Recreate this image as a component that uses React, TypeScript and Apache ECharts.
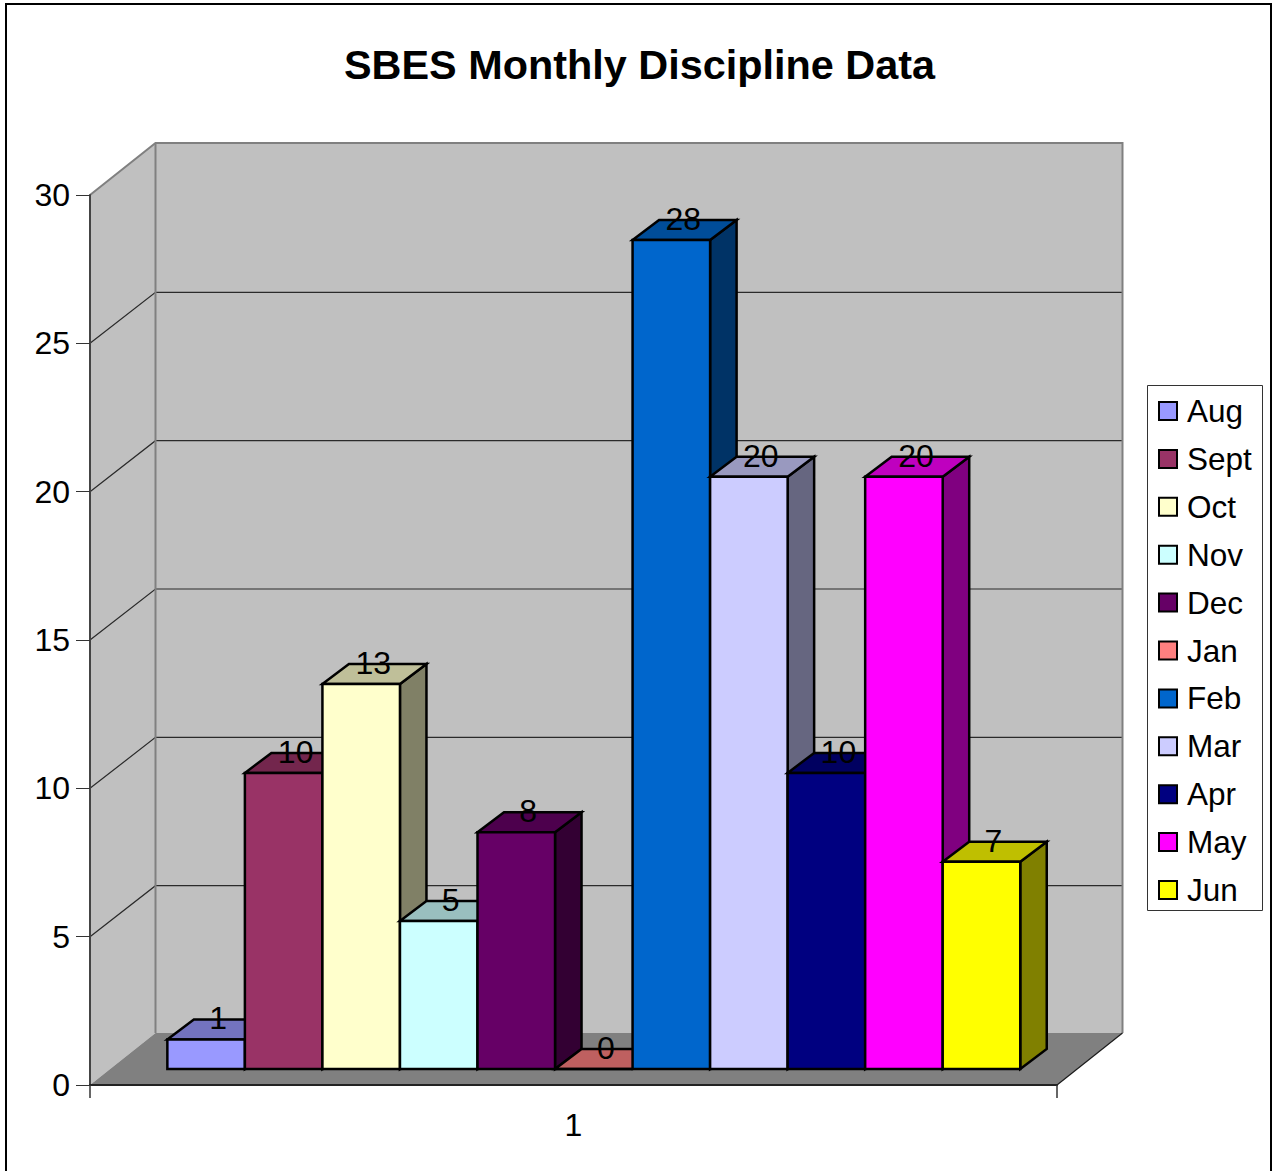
import React, { useEffect, useRef } from "react";
import * as echarts from "echarts";

const categories = ["1"];
const months = ["Aug", "Sept", "Oct", "Nov", "Dec", "Jan", "Feb", "Mar", "Apr", "May", "Jun"];
const values = [1, 10, 13, 5, 8, 0, 28, 20, 10, 20, 7];
const colors = ["#9999FF", "#993366", "#FFFFCC", "#CCFFFF", "#660066", "#FF8080", "#0066CC", "#CCCCFF", "#000080", "#FF00FF", "#FFFF00"];
const gridTicks = [5, 10, 15, 20, 25];

const FONT = '"Liberation Sans", Arial, sans-serif';
const WALL_DX = 65.5;
const WALL_DY = -52;
const GRID_DY = -51;
const BAR_DX = 20.3;
const BAR_DY = -16;
const DEPTH_X = 26.5;
const DEPTH_Y = -20;
const BAR_SHARE = 0.882;
const BAR_SCALE = 0.998;

function shade(hex: string, k: number) {
  const n = parseInt(hex.slice(1), 16);
  const c = [(n >> 16) & 255, (n >> 8) & 255, n & 255].map((v) => Math.round(v * k));
  return `rgb(${c[0]},${c[1]},${c[2]})`;
}

function renderWalls(_: any, api: any) {
  const band = api.size([1, 0])[0];
  const cx = api.coord([0, 0])[0];
  const x0 = cx - band / 2;
  const x1 = cx + band / 2;
  const y0 = api.coord([0, 0])[1];
  const yT = api.coord([0, 30])[1];
  const gray = "#808080";
  const children: any[] = [
    { type: "polygon", shape: { points: [[x0, y0], [x0, yT], [x0 + WALL_DX, yT + WALL_DY], [x0 + WALL_DX, y0 + WALL_DY]] }, style: { fill: "#C0C0C0", stroke: "none" } },
    { type: "polygon", shape: { points: [[x0 + WALL_DX, y0 + WALL_DY], [x0 + WALL_DX, yT + WALL_DY], [x1 + WALL_DX, yT + WALL_DY], [x1 + WALL_DX, y0 + WALL_DY]] }, style: { fill: "#C0C0C0", stroke: "none" } },
    { type: "polygon", shape: { points: [[x0, y0], [x0 + WALL_DX, y0 + WALL_DY], [x1 + WALL_DX, y0 + WALL_DY], [x1, y0]] }, style: { fill: gray, stroke: "none" } },
  ];
  gridTicks.forEach((t) => {
    const y = api.coord([0, t])[1];
    children.push({ type: "polyline", shape: { points: [[x0, y], [x0 + WALL_DX, y + GRID_DY], [x1 + WALL_DX, y + GRID_DY]] }, style: { fill: "none", stroke: "#2a2a2a", lineWidth: 1.2 } });
  });
  children.push(
    { type: "polyline", shape: { points: [[x0, yT], [x0 + WALL_DX, yT + WALL_DY], [x1 + WALL_DX, yT + WALL_DY], [x1 + WALL_DX, y0 + WALL_DY]] }, style: { fill: "none", stroke: gray, lineWidth: 2 } },
    { type: "line", shape: { x1: x0 + WALL_DX, y1: yT + WALL_DY, x2: x0 + WALL_DX, y2: y0 + WALL_DY }, style: { stroke: gray, lineWidth: 2 } },
    { type: "line", shape: { x1: x1, y1: y0, x2: x1 + WALL_DX, y2: y0 + WALL_DY }, style: { stroke: "#1a1a1a", lineWidth: 1.2 } }
  );
  return { type: "group", children };
}

function makeBarRenderer(i: number) {
  return (_: any, api: any) => {
    const band = api.size([1, 0])[0];
    const w = (band * BAR_SHARE) / months.length;
    const p = api.coord([api.value(0), api.value(1)]);
    const b = api.coord([api.value(0), 0]);
    const l = p[0] + BAR_DX + (i - months.length / 2) * w;
    const r = l + w;
    const bot = b[1] + BAR_DY;
    const top = bot + (p[1] - b[1]) * BAR_SCALE;
    const edge = { stroke: "#000", lineWidth: 2.5, lineJoin: "miter" };
    const children: any[] = [
      { type: "polygon", shape: { points: [[r, bot], [r, top], [r + DEPTH_X, top + DEPTH_Y], [r + DEPTH_X, bot + DEPTH_Y]] }, style: { fill: shade(colors[i], 0.5), ...edge } },
      { type: "polygon", shape: { points: [[l, top], [l + DEPTH_X, top + DEPTH_Y], [r + DEPTH_X, top + DEPTH_Y], [r, top]] }, style: { fill: shade(colors[i], 0.75), ...edge } },
      { type: "polygon", shape: { points: [[l, bot], [l, top], [r, top], [r, bot]] }, style: { fill: colors[i], ...edge } },
      { type: "text", style: { text: String(api.value(1)), x: (l + r) / 2 + 12, y: top + DEPTH_Y - 1, textAlign: "center", textVerticalAlign: "middle", fontFamily: FONT, fontSize: 32, fill: "#000" } },
    ];
    return { type: "group", children };
  };
}

export default function App() {
  const ref = useRef<HTMLDivElement>(null);
  useEffect(() => {
    document.body.style.margin = "0";
    const chart = echarts.init(ref.current!, undefined, { renderer: "svg" });
    chart.setOption({
      animation: false,
      backgroundColor: "#fff",
      title: {
        text: "SBES Monthly Discipline Data",
        left: 344,
        top: 44,
        padding: 0,
        textStyle: { fontFamily: FONT, fontSize: 41.4, fontWeight: "bold", color: "#000" },
      },
      graphic: [
        { type: "rect", silent: true, z: 0, shape: { x: 6, y: 4, width: 1265, height: 1300 }, style: { fill: "none", stroke: "#000", lineWidth: 2 } },
        { type: "rect", silent: true, z: 0, shape: { x: 1147.5, y: 385.5, width: 115, height: 525 }, style: { fill: "#fff", stroke: "#333", lineWidth: 1 } },
      ],
      grid: { left: 90, right: 219, top: 195, height: 890 },
      xAxis: {
        type: "category",
        data: categories,
        z: 3,
        axisLine: { lineStyle: { color: "#222", width: 2 } },
        axisTick: { show: true, length: 13, lineStyle: { color: "#333", width: 1.5 } },
        axisLabel: { fontFamily: FONT, fontSize: 32, color: "#000", margin: 24 },
        splitLine: { show: false },
      },
      yAxis: {
        type: "value",
        min: 0,
        max: 30,
        interval: 5,
        z: 3,
        axisLine: { show: true, lineStyle: { color: "#444", width: 2 } },
        axisTick: { show: true, length: 14, lineStyle: { color: "#333", width: 1 } },
        axisLabel: { fontFamily: FONT, fontSize: 32, color: "#000", margin: 20 },
        splitLine: { show: false },
      },
      legend: {
        data: months,
        orient: "vertical",
        left: 1158,
        top: 393,
        padding: 0,
        itemWidth: 18,
        itemHeight: 18,
        itemGap: 11.9,
        icon: "rect",
        selectedMode: false,
        itemStyle: { borderColor: "#000", borderWidth: 2 },
        textStyle: { fontFamily: FONT, fontSize: 31.5, color: "#000", padding: [0, 0, 0, 5], lineHeight: 36 },
      },
      series: [
        { type: "custom", z: 1, silent: true, clip: false, data: [[0, 0]], renderItem: renderWalls },
        ...months.map((name, i) => ({
          type: "custom",
          name,
          z: 2,
          clip: false,
          silent: true,
          data: [[0, values[i]]],
          encode: { x: 0, y: 1 },
          itemStyle: { color: colors[i], borderColor: "#000", borderWidth: 2 },
          renderItem: makeBarRenderer(i),
        })),
      ],
    });
    return () => chart.dispose();
  }, []);
  return <div ref={ref} style={{ width: 1276, height: 1171 }} />;
}
